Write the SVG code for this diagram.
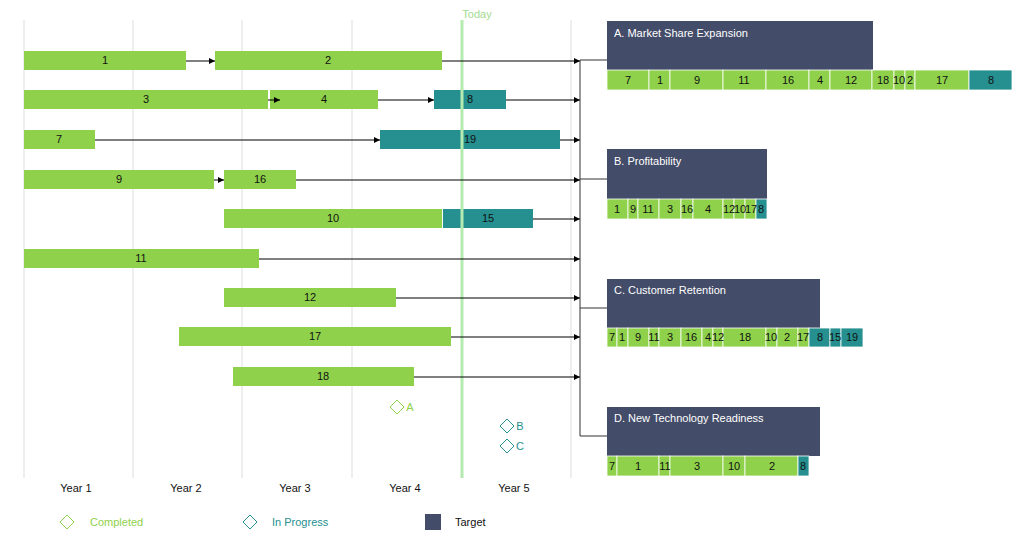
<svg xmlns="http://www.w3.org/2000/svg" width="1024" height="540" viewBox="0 0 1024 540">
<style>
text{font-family:"Liberation Sans",Arial,sans-serif;font-size:11px;fill:#111;text-anchor:middle}
.g{fill:#8fd14a}.t{fill:#25908f}.n{fill:#434c68}
.c{stroke:#fff;stroke-width:0.8}
.grid{stroke:#ddd;stroke-width:1}
.ln{stroke:#000;stroke-width:1;fill:none}
.h{fill:#fff;text-anchor:start}
</style>
<defs><marker id="ar" viewBox="0 0 10 10" refX="10" refY="5" markerWidth="6" markerHeight="6" orient="auto"><path d="M0,0L10,5L0,10z" fill="#000"/></marker></defs>
<g id="grid">
<line class="grid" x1="24" y1="20" x2="24" y2="478"/><line class="grid" x1="133" y1="20" x2="133" y2="478"/><line class="grid" x1="242" y1="20" x2="242" y2="478"/><line class="grid" x1="352" y1="20" x2="352" y2="478"/><line class="grid" x1="571" y1="20" x2="571" y2="478"/>
<text x="76" y="492">Year 1</text><text x="186" y="492">Year 2</text><text x="295" y="492">Year 3</text><text x="405" y="492">Year 4</text><text x="514" y="492">Year 5</text>
</g>
<g id="bars">
<rect class="g" x="24" y="51" width="162" height="19"/><text x="105" y="64">1</text>
<rect class="g" x="215" y="51" width="227" height="19"/><text x="328" y="64">2</text>
<rect class="g" x="24" y="90" width="244" height="19"/><text x="146" y="103">3</text>
<rect class="g" x="270" y="90" width="108" height="19"/><text x="324" y="103">4</text>
<rect class="t" x="434" y="90" width="72" height="19"/><text x="470" y="103">8</text>
<rect class="g" x="24" y="130" width="71" height="19"/><text x="59" y="143">7</text>
<rect class="t" x="380" y="130" width="180" height="19"/><text x="470" y="143">19</text>
<rect class="g" x="24" y="170" width="190" height="19"/><text x="119" y="183">9</text>
<rect class="g" x="224" y="170" width="72" height="19"/><text x="260" y="183">16</text>
<rect class="g" x="224" y="209" width="218" height="19"/><text x="333" y="222">10</text>
<rect class="t" x="443" y="209" width="90" height="19"/><text x="488" y="222">15</text>
<rect class="g" x="24" y="249" width="235" height="19"/><text x="141" y="262">11</text>
<rect class="g" x="224" y="288" width="172" height="19"/><text x="310" y="301">12</text>
<rect class="g" x="179" y="327" width="272" height="19"/><text x="315" y="340">17</text>
<rect class="g" x="233" y="367" width="181" height="19"/><text x="323" y="380">18</text>
</g>
<g id="today"><line x1="462" y1="20" x2="462" y2="478" stroke="#b5eab0" stroke-width="3"/><text x="477" y="18" style="fill:#9fdc90">Today</text></g>
<g id="connectors">
<line class="ln" x1="186" y1="61" x2="215" y2="61" marker-end="url(#ar)"/>
<line class="ln" x1="442" y1="61" x2="580" y2="61" marker-end="url(#ar)"/>
<line class="ln" x1="268" y1="100" x2="280" y2="100" marker-end="url(#ar)"/>
<line class="ln" x1="378" y1="100" x2="434" y2="100" marker-end="url(#ar)"/>
<line class="ln" x1="506" y1="100" x2="580" y2="100" marker-end="url(#ar)"/>
<line class="ln" x1="95" y1="140" x2="380" y2="140" marker-end="url(#ar)"/>
<line class="ln" x1="560" y1="140" x2="580" y2="140" marker-end="url(#ar)"/>
<line class="ln" x1="214" y1="180" x2="224" y2="180" marker-end="url(#ar)"/>
<line class="ln" x1="296" y1="180" x2="580" y2="180" marker-end="url(#ar)"/>
<line class="ln" x1="533" y1="219" x2="580" y2="219" marker-end="url(#ar)"/>
<line class="ln" x1="259" y1="259" x2="580" y2="259" marker-end="url(#ar)"/>
<line class="ln" x1="396" y1="298" x2="580" y2="298" marker-end="url(#ar)"/>
<line class="ln" x1="451" y1="337" x2="580" y2="337" marker-end="url(#ar)"/>
<line class="ln" x1="414" y1="377" x2="580" y2="377" marker-end="url(#ar)"/>
<path d="M580,60V436M580,60H607M580,179H607M580,308H607M580,436H607" stroke="#333" stroke-width="1" fill="none"/>
</g>
<g id="milestones">
<path d="M397,400l7,7l-7,7l-7,-7z" fill="none" stroke="#8fd14a"/><text x="410" y="411" style="fill:#8fd14a">A</text>
<path d="M507,419l7,7l-7,7l-7,-7z" fill="none" stroke="#25908f"/><text x="520" y="430" style="fill:#25908f">B</text>
<path d="M507,439l7,7l-7,7l-7,-7z" fill="none" stroke="#25908f"/><text x="520" y="450" style="fill:#25908f">C</text>
</g>
<g id="targetA">
<rect class="n" x="607" y="21" width="266" height="49"/><text class="h" x="614" y="37">A. Market Share Expansion</text>
<g class="c"><rect class="g" x="607" y="70" width="42" height="20"/><rect class="g" x="649" y="70" width="21" height="20"/><rect class="g" x="670" y="70" width="53" height="20"/><rect class="g" x="723" y="70" width="43" height="20"/><rect class="g" x="766" y="70" width="43" height="20"/><rect class="g" x="809" y="70" width="21" height="20"/><rect class="g" x="830" y="70" width="42" height="20"/><rect class="g" x="872" y="70" width="22" height="20"/><rect class="g" x="894" y="70" width="11" height="20"/><rect class="g" x="905" y="70" width="10" height="20"/><rect class="g" x="915" y="70" width="54" height="20"/><rect class="t" x="969" y="70" width="43" height="20"/></g>
<text x="628" y="84">7</text><text x="660" y="84">1</text><text x="697" y="84">9</text><text x="744" y="84">11</text><text x="788" y="84">16</text><text x="820" y="84">4</text><text x="851" y="84">12</text><text x="883" y="84">18</text><text x="899" y="84">10</text><text x="910" y="84">2</text><text x="942" y="84">17</text><text x="991" y="84">8</text>
</g>
<g id="targetB">
<rect class="n" x="607" y="149" width="160" height="50"/><text class="h" x="614" y="165">B. Profitability</text>
<g class="c"><rect class="g" x="607" y="199" width="21" height="20"/><rect class="g" x="628" y="199" width="10" height="20"/><rect class="g" x="638" y="199" width="21" height="20"/><rect class="g" x="659" y="199" width="22" height="20"/><rect class="g" x="681" y="199" width="12" height="20"/><rect class="g" x="693" y="199" width="30" height="20"/><rect class="g" x="723" y="199" width="11" height="20"/><rect class="g" x="734" y="199" width="11" height="20"/><rect class="g" x="745" y="199" width="11" height="20"/><rect class="t" x="756" y="199" width="11" height="20"/></g>
<text x="617" y="213">1</text><text x="633" y="213">9</text><text x="648" y="213">11</text><text x="670" y="213">3</text><text x="687" y="213">16</text><text x="708" y="213">4</text><text x="729" y="213">12</text><text x="740" y="213">10</text><text x="751" y="213">17</text><text x="761" y="213">8</text>
</g>
<g id="targetC">
<rect class="n" x="607" y="279" width="213" height="49"/><text class="h" x="614" y="294">C. Customer Retention</text>
<g class="c"><rect class="g" x="607" y="328" width="10" height="19"/><rect class="g" x="617" y="328" width="11" height="19"/><rect class="g" x="628" y="328" width="21" height="19"/><rect class="g" x="649" y="328" width="10" height="19"/><rect class="g" x="659" y="328" width="22" height="19"/><rect class="g" x="681" y="328" width="21" height="19"/><rect class="g" x="702" y="328" width="11" height="19"/><rect class="g" x="713" y="328" width="10" height="19"/><rect class="g" x="723" y="328" width="43" height="19"/><rect class="g" x="766" y="328" width="11" height="19"/><rect class="g" x="777" y="328" width="21" height="19"/><rect class="g" x="798" y="328" width="11" height="19"/><rect class="t" x="809" y="328" width="21" height="19"/><rect class="t" x="830" y="328" width="11" height="19"/><rect class="t" x="841" y="328" width="22" height="19"/></g>
<text x="612" y="341">7</text><text x="622" y="341">1</text><text x="638" y="341">9</text><text x="654" y="341">11</text><text x="670" y="341">3</text><text x="691" y="341">16</text><text x="708" y="341">4</text><text x="718" y="341">12</text><text x="745" y="341">18</text><text x="771" y="341">10</text><text x="787" y="341">2</text><text x="803" y="341">17</text><text x="820" y="341">8</text><text x="835" y="341">15</text><text x="852" y="341">19</text>
</g>
<g id="targetD">
<rect class="n" x="607" y="407" width="213" height="49"/><text class="h" x="614" y="422">D. New Technology Readiness</text>
<g class="c"><rect class="g" x="607" y="456" width="10" height="20"/><rect class="g" x="617" y="456" width="42" height="20"/><rect class="g" x="659" y="456" width="11" height="20"/><rect class="g" x="670" y="456" width="53" height="20"/><rect class="g" x="723" y="456" width="22" height="20"/><rect class="g" x="745" y="456" width="53" height="20"/><rect class="t" x="798" y="456" width="11" height="20"/></g>
<text x="612" y="470">7</text><text x="638" y="470">1</text><text x="665" y="470">11</text><text x="697" y="470">3</text><text x="734" y="470">10</text><text x="772" y="470">2</text><text x="803" y="470">8</text>
</g>
<g id="legend">
<path d="M67,515l7,7l-7,7l-7,-7z" fill="none" stroke="#8fd14a"/><text x="90" y="526" style="fill:#8fd14a;text-anchor:start">Completed</text>
<path d="M250,515l7,7l-7,7l-7,-7z" fill="none" stroke="#25908f"/><text x="272" y="526" style="fill:#25908f;text-anchor:start">In Progress</text>
<rect class="n" x="425" y="514" width="16" height="16"/><text x="455" y="526" style="text-anchor:start">Target</text>
</g>
</svg>
